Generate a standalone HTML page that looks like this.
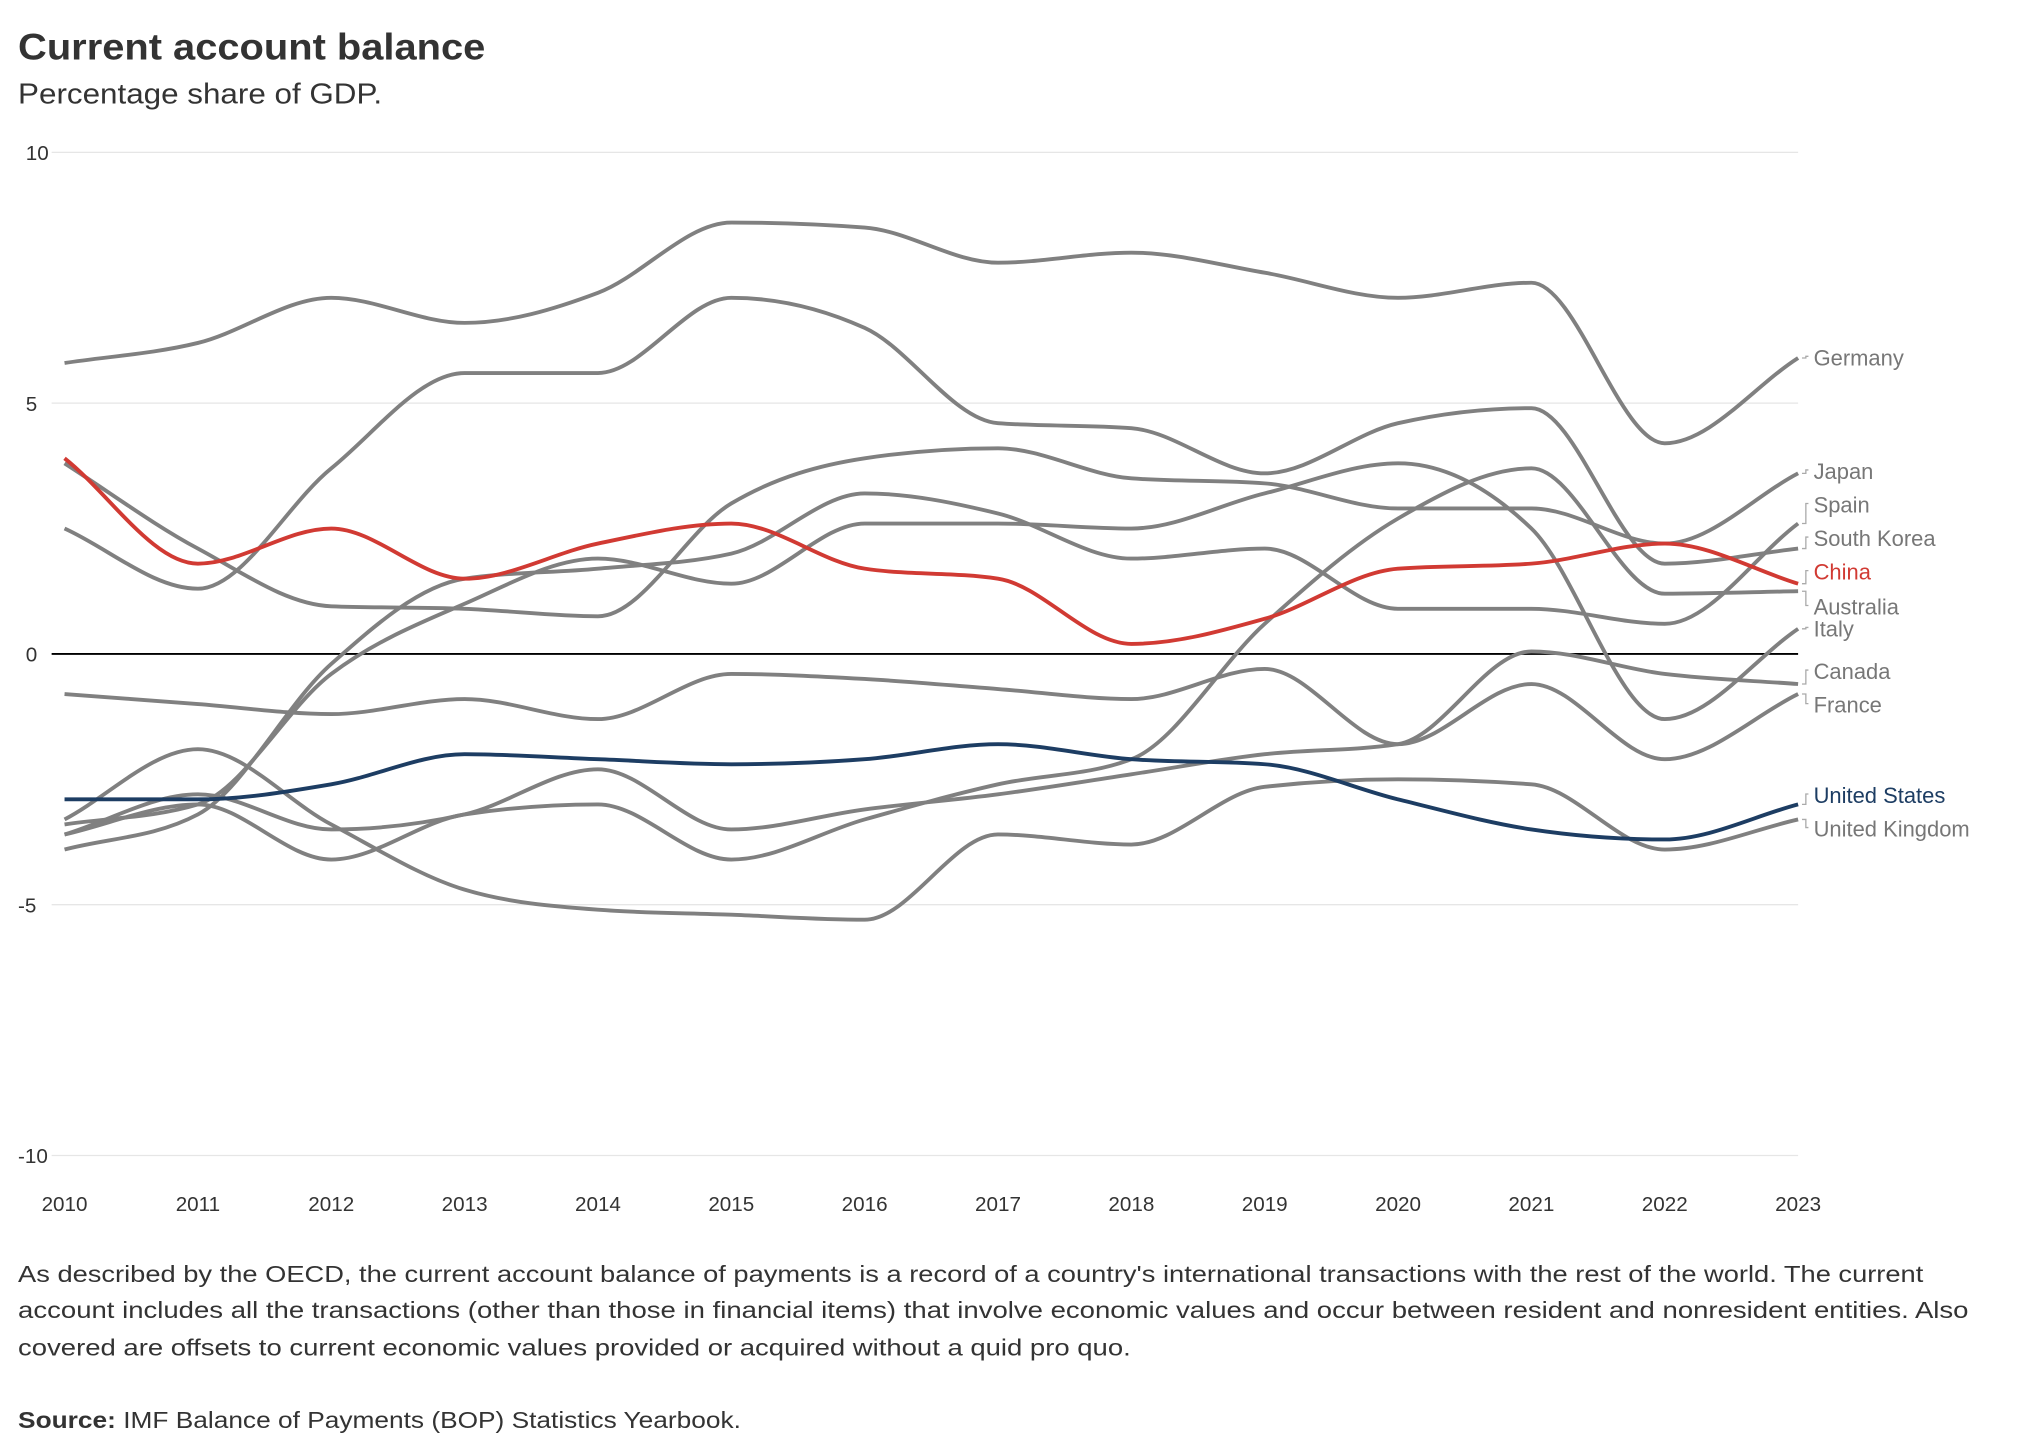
<!DOCTYPE html>
<html><head><meta charset="utf-8"><style>
html,body{margin:0;padding:0;background:#fff;width:2024px;height:1455px;overflow:hidden}
svg text{font-family:"Liberation Sans",sans-serif}
</style></head><body>
<svg id="chart" width="2024" height="1455" viewBox="0 0 1568 1127" preserveAspectRatio="none" xmlns="http://www.w3.org/2000/svg">
<text x="14" y="46" font-size="29" font-weight="bold" fill="#333" textLength="362" lengthAdjust="spacingAndGlyphs">Current account balance</text>
<text x="14" y="80" font-size="22" fill="#333" textLength="282" lengthAdjust="spacingAndGlyphs">Percentage share of GDP.</text>
<g id="axes"></g>
<g id="lines"></g>
<g id="labels"></g>
<text x="14" y="993" font-size="18" fill="#333" textLength="1476" lengthAdjust="spacingAndGlyphs">As described by the OECD, the current account balance of payments is a record of a country's international transactions with the rest of the world. The current</text>
<text x="14" y="1021" font-size="18" fill="#333" textLength="1511" lengthAdjust="spacingAndGlyphs">account includes all the transactions (other than those in financial items) that involve economic values and occur between resident and nonresident entities. Also</text>
<text x="14" y="1050" font-size="18" fill="#333" textLength="862" lengthAdjust="spacingAndGlyphs">covered are offsets to current economic values provided or acquired without a quid pro quo.</text>
<text x="14" y="1106" font-size="18" fill="#333" textLength="560" lengthAdjust="spacingAndGlyphs"><tspan font-weight="bold">Source:</tspan> IMF Balance of Payments (BOP) Statistics Yearbook.</text>
</svg>
<script>
const years = [2010,2011,2012,2013,2014,2015,2016,2017,2018,2019,2020,2021,2022,2023];
const yTicks = [10,5,0,-5,-10];
const germany = [5.8,6.2,7.1,6.6,7.2,8.6,8.5,7.8,8.0,7.6,7.1,7.4,4.2,5.9];
const japan = [3.8,2.1,0.95,0.9,0.75,3.0,3.9,4.1,3.5,3.4,2.9,2.9,2.2,3.6];
const southKorea = [2.5,1.3,3.7,5.6,5.6,7.1,6.5,4.6,4.5,3.6,4.6,4.9,1.8,2.1];
const china = [3.9,1.8,2.5,1.5,2.2,2.6,1.7,1.5,0.2,0.7,1.7,1.8,2.2,1.4];
const australia = [-3.6,-3.0,-4.1,-3.2,-3.0,-4.1,-3.3,-2.6,-2.1,0.6,2.7,3.7,1.2,1.25];
const italy = [-3.4,-3.0,-0.4,1.0,1.9,1.4,2.6,2.6,2.5,3.2,3.8,2.5,-1.3,0.5];
const spain = [-3.9,-3.2,-0.2,1.5,1.7,2.0,3.2,2.8,1.9,2.1,0.9,0.9,0.6,2.6];
const canada = [-3.6,-2.8,-3.5,-3.2,-2.3,-3.5,-3.1,-2.8,-2.4,-2.0,-1.8,0.05,-0.4,-0.6];
const france = [-0.8,-1.0,-1.2,-0.9,-1.3,-0.4,-0.5,-0.7,-0.9,-0.3,-1.8,-0.6,-2.1,-0.8];
const unitedStates = [-2.9,-2.9,-2.6,-2.0,-2.1,-2.2,-2.1,-1.8,-2.1,-2.2,-2.9,-3.5,-3.7,-3.0];
const unitedKingdom = [-3.3,-1.9,-3.4,-4.7,-5.1,-5.2,-5.3,-3.6,-3.8,-2.65,-2.5,-2.6,-3.9,-3.3];

const seriesList = [
 {name:'Germany',key:'germany',data:germany,color:'#808080',ly:277},
 {name:'Japan',key:'japan',data:japan,color:'#808080',ly:365},
 {name:'Spain',key:'spain',data:spain,color:'#808080',ly:391},
 {name:'South Korea',key:'south-korea',data:southKorea,color:'#808080',ly:417},
 {name:'Australia',key:'australia',data:australia,color:'#808080',ly:470},
 {name:'Italy',key:'italy',data:italy,color:'#808080',ly:487},
 {name:'Canada',key:'canada',data:canada,color:'#808080',ly:520},
 {name:'France',key:'france',data:france,color:'#808080',ly:546},
 {name:'United Kingdom',key:'united-kingdom',data:unitedKingdom,color:'#808080',ly:642},
 {name:'China',key:'china',data:china,color:'#d13a33',ly:443},
 {name:'United States',key:'united-states',data:unitedStates,color:'#1d3d63',ly:616}
];
const NS='http://www.w3.org/2000/svg';
const x0=50,x1=1393,yTop=118,yBot=895;
function xScale(yr){return x0+(yr-years[0])/(years[years.length-1]-years[0])*(x1-x0);}
function yScale(v){return yTop+(10-v)/20*(yBot-yTop);}
function mk(tag,attrs,parent){const e=document.createElementNS(NS,tag);for(const k in attrs)e.setAttribute(k,attrs[k]);parent.appendChild(e);return e;}
const axes=document.getElementById('axes');
yTicks.forEach(t=>{
 const y=yScale(t);
 const ln=mk('line',{x1:40,x2:x1,y1:y,y2:y,stroke:t===0?'#000':'#e6e6e6','stroke-width':t===0?1.4:1},axes);
 
 
 const tx=mk('text',{x:t<0?14:20,y:y+6,'font-size':16,fill:'#333'},axes);
 tx.textContent=String(t);
 
 
});
years.forEach(yr=>{
 const tx=mk('text',{x:xScale(yr),y:938,'font-size':16,fill:'#333','text-anchor':'middle'},axes);
 tx.textContent=String(yr);
 
 
});
function monotonePath(pts){
 const n=pts.length,dx=[],m=[],t=[];
 for(let i=0;i<n-1;i++){dx.push(pts[i+1][0]-pts[i][0]);m.push((pts[i+1][1]-pts[i][1])/dx[i]);}
 t[0]=m[0];t[n-1]=m[n-2];
 for(let i=1;i<n-1;i++){
  if(m[i-1]*m[i]<=0)t[i]=0;
  else{const h0=dx[i-1],h1=dx[i];const p=(m[i-1]*h1+m[i]*h0)/(h0+h1);
   t[i]=(Math.sign(m[i-1])+Math.sign(m[i]))*Math.min(Math.abs(m[i-1]),Math.abs(m[i]),0.5*Math.abs(p))||0;}
 }
 let d='M'+pts[0][0]+','+pts[0][1];
 for(let i=0;i<n-1;i++){const h=dx[i]/3;
  d+='C'+(pts[i][0]+h)+','+(pts[i][1]+h*t[i])+','+(pts[i+1][0]-h)+','+(pts[i+1][1]-h*t[i+1])+','+pts[i+1][0]+','+pts[i+1][1];}
 return d;
}
const linesG=document.getElementById('lines'),labG=document.getElementById('labels');
seriesList.forEach(s=>{
 const pts=s.data.map((v,i)=>[xScale(years[i]),yScale(v)]);
 const p=mk('path',{d:monotonePath(pts),fill:'none',stroke:s.color,'stroke-width':3},linesG);
 
 
 const endY=yScale(s.data[s.data.length-1]);
 const c=mk('path',{d:'M1396,'+endY+' L1399,'+endY+' L1399,'+(s.ly-1)+' L1401,'+(s.ly-1),fill:'none',stroke:'#aaa','stroke-width':1},labG);
 
 
 const tx=mk('text',{x:1405,y:s.ly+6,'font-size':17,fill:s.color==='#808080'?'#777':s.color},labG);
 tx.textContent=s.name;
 
 
});
</script>
</body></html>
